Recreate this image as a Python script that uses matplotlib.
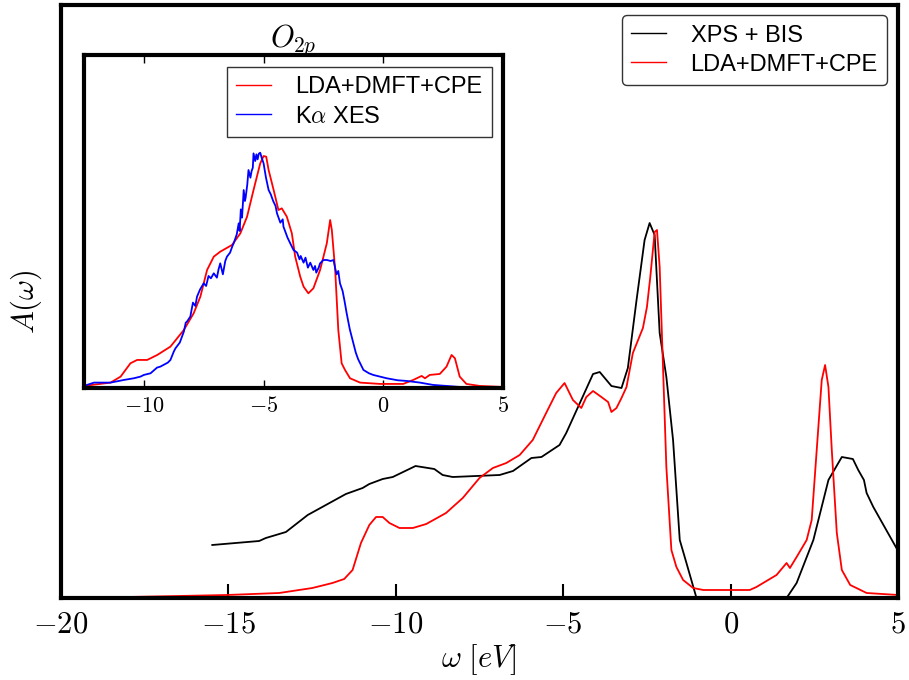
import matplotlib
matplotlib.use("Agg")
import matplotlib.pyplot as plt

plt.rcParams['mathtext.fontset'] = 'cm'
plt.rcParams['font.family'] = ['Liberation Sans', 'DejaVu Sans']

# ---- main panel: XPS + BIS experiment
xps_w = [-15.48, -14.08, -13.88, -13.28, -12.63, -11.49, -10.99, -10.79, -10.39, -10.09,
         -9.41, -8.85, -8.60, -8.30, -6.90, -6.50, -5.95, -5.65, -5.11, -4.91,
         -4.11, -3.91, -3.56, -3.26, -3.07, -2.81, -2.57, -2.42, -2.27, -2.12,
         -1.92, -1.72, -1.62, -1.52, -1.32, -1.02, 1.67, 1.97, 2.47, 2.92,
         3.32, 3.65, 3.81, 3.98, 4.06, 4.26, 5.00]
xps_A = [0.53, 0.57, 0.60, 0.66, 0.83, 1.04, 1.10, 1.14, 1.19, 1.21,
         1.32, 1.29, 1.23, 1.21, 1.23, 1.27, 1.40, 1.41, 1.53, 1.65,
         2.24, 2.26, 2.12, 2.10, 2.30, 2.98, 3.58, 3.75, 3.63, 2.65,
         2.21, 1.58, 1.08, 0.58, 0.35, 0.00, 0.00, 0.15, 0.58, 1.18,
         1.41, 1.39, 1.28, 1.18, 1.05, 0.91, 0.47]

# ---- main panel: LDA+DMFT+CPE theory
cpe_w = [-20.0, -18.0, -16.47, -15.04, -13.48, -12.49, -11.89, -11.54, -11.29, -11.04,
         -10.79, -10.59, -10.39, -10.19, -9.89, -9.49, -9.09, -8.50, -8.00, -7.50,
         -7.10, -6.70, -6.30, -5.91, -5.51, -5.21, -4.96, -4.71, -4.46, -4.31,
         -4.11, -3.86, -3.66, -3.56, -3.41, -3.26, -3.11, -2.92, -2.62, -2.50,
         -2.40, -2.27, -2.20, -2.12, -2.02, -1.92, -1.77, -1.62, -1.42, -1.12,
         -0.82, 0.57, 0.77, 1.37, 1.57, 1.67, 1.77, 1.97, 2.27, 2.42,
         2.57, 2.72, 2.82, 2.92, 3.02, 3.17, 3.32, 3.57, 4.06, 5.00]
cpe_A = [0.005, 0.01, 0.02, 0.03, 0.05, 0.10, 0.15, 0.19, 0.28, 0.55,
         0.73, 0.81, 0.81, 0.75, 0.70, 0.70, 0.74, 0.85, 1.00, 1.20,
         1.30, 1.35, 1.43, 1.58, 1.85, 2.05, 2.15, 1.98, 1.90, 2.01,
         2.07, 2.01, 1.96, 1.86, 1.90, 2.00, 2.11, 2.45, 2.70, 2.91,
         3.21, 3.66, 3.68, 3.31, 2.31, 1.31, 0.48, 0.31, 0.18, 0.10,
         0.08, 0.08, 0.11, 0.23, 0.31, 0.35, 0.30, 0.41, 0.58, 0.78,
         1.48, 2.18, 2.33, 2.11, 1.48, 0.65, 0.28, 0.13, 0.05, 0.03]

# ---- inset: O 2p partial spectra
o2p_w = [-12.5, -11.39, -10.97, -10.56, -10.28, -9.86, -9.44, -8.89, -8.33, -7.92,
         -7.64, -7.36, -7.08, -6.81, -6.32, -5.97, -5.69, -5.42, -5.14, -5.0,
         -4.89, -4.79, -4.58, -4.38, -4.24, -4.03, -3.82, -3.68, -3.47, -3.33,
         -3.13, -2.92, -2.64, -2.36, -2.22, -2.15, -2.01, -1.88, -1.74, -1.60,
         -1.39, -0.97, -0.14, 0.83, 1.25, 1.60, 1.74, 1.94, 2.36, 2.64,
         2.85, 2.99, 3.19, 3.47, 4.03, 5.0]
o2p_A = [0.05, 0.15, 0.33, 0.73, 0.83, 0.83, 0.98, 1.23, 1.73, 2.23,
         2.73, 3.53, 3.93, 4.08, 4.28, 4.63, 5.13, 5.93, 6.73, 6.95,
         6.93, 6.53, 5.93, 5.33, 5.38, 5.13, 4.63, 3.93, 3.33, 3.03,
         2.83, 2.98, 3.53, 4.33, 5.03, 4.73, 3.53, 1.73, 0.73, 0.53,
         0.28, 0.15, 0.11, 0.11, 0.23, 0.35, 0.28, 0.38, 0.41, 0.63,
         0.98, 0.88, 0.33, 0.11, 0.05, 0.02]

xes_w = [-12.5, -12.08, -11.39, -10.83, -10.42, -10.14, -10.0, -9.72, -9.45, -9.31,
         -9.0, -8.89, -8.75, -8.68, -8.5, -8.33, -8.25, -8.2, -8.06, -7.95,
         -7.85, -7.78, -7.65, -7.5, -7.4, -7.3, -7.2, -7.08, -6.95, -6.88,
         -6.81, -6.7, -6.6, -6.53, -6.4, -6.3, -6.25, -6.12, -6.04, -6.0,
         -5.95, -5.9, -5.83, -5.78, -5.75, -5.68, -5.63, -5.55, -5.5, -5.45,
         -5.42, -5.35, -5.3, -5.25, -5.2, -5.14, -5.08, -5.0, -4.9, -4.79,
         -4.7, -4.6, -4.5, -4.44, -4.3, -4.2, -4.17, -4.0, -3.9, -3.75,
         -3.6, -3.5, -3.45, -3.33, -3.25, -3.15, -3.05, -2.92, -2.85, -2.8,
         -2.7, -2.64, -2.5, -2.36, -2.2, -2.08, -2.0, -1.95, -1.88, -1.81,
         -1.7, -1.62, -1.53, -1.4, -1.25, -1.15, -1.05, -0.83, -0.6, -0.42,
         0.14, 0.6, 0.97, 1.53, 2.08, 2.64, 3.19, 5.0]
xes_A = [0.05, 0.15, 0.15, 0.23, 0.28, 0.33, 0.38, 0.43, 0.60, 0.63,
         0.75, 0.83, 1.08, 1.18, 1.35, 1.68, 1.95, 1.98, 2.13, 2.55,
         2.45, 2.73, 2.95, 3.13, 3.05, 3.35, 3.28, 3.43, 3.30, 3.55,
         3.73, 3.40, 3.80, 3.93, 4.05, 4.25, 4.33, 4.60, 4.93, 4.70,
         5.35, 5.10, 5.93, 5.60, 5.70, 6.10, 6.53, 6.30, 6.50, 6.60,
         7.03, 6.80, 7.00, 6.85, 7.02, 7.05, 6.90, 6.73, 6.30, 5.93,
         5.80, 5.60, 5.45, 5.23, 4.95, 5.05, 4.83, 4.50, 4.35, 4.13,
         4.05, 3.85, 3.95, 3.75, 3.90, 3.60, 3.75, 3.53, 3.65, 3.45,
         3.60, 3.73, 3.83, 3.83, 3.80, 3.83, 3.55, 3.40, 3.50, 3.13,
         2.90, 2.60, 2.23, 1.75, 1.33, 1.05, 0.85, 0.53, 0.43, 0.38,
         0.28, 0.22, 0.20, 0.15, 0.08, 0.05, 0.02, 0.0]

fig = plt.figure(figsize=(9.09, 6.8), dpi=100)

ax = fig.add_axes([0.067, 0.1206, 0.921, 0.872])
ax.plot(xps_w, xps_A, color='black', lw=1.3, label='XPS + BIS')
ax.plot(cpe_w, cpe_A, color='red', lw=1.3, label='LDA+DMFT+CPE')
ax.set_xlim(-20, 5)
ax.set_ylim(0, 5.93)
ax.set_yticks([])
ax.set_xticks([-20, -15, -10, -5, 0, 5])
ax.set_xticklabels([r'$-20$', r'$-15$', r'$-10$', r'$-5$', r'$0$', r'$5$'], fontsize=22)
ax.tick_params(axis='x', direction='in', length=10, width=1.5, pad=8, top=False)
for s in ax.spines.values():
    s.set_linewidth(3)
ax.set_xlabel(r'$\omega\ [eV]$', fontsize=22, labelpad=2)
ax.set_ylabel(r'$A(\omega)$', fontsize=22, labelpad=12)

legend_style = dict(fontsize=17, frameon=True, handlelength=1.45,
                    handletextpad=1.05, borderpad=0.4, labelspacing=0.3,
                    borderaxespad=0, loc='upper right')

leg = ax.legend(fancybox=True, bbox_to_anchor=(0.987, 0.983), **legend_style)
leg.get_frame().set_edgecolor('black')
leg.get_frame().set_linewidth(1.0)
for h in leg.get_lines():
    h.set_linewidth(1.0)

ins = fig.add_axes([0.0924, 0.430, 0.461, 0.489])
ins.plot(o2p_w, o2p_A, color='red', lw=1.3, label='LDA+DMFT+CPE')
ins.plot(xes_w, xes_A, color='blue', lw=1.3, label=r'K$\alpha$ XES')
ins.set_xlim(-12.5, 5)
ins.set_ylim(0, 9.98)
ins.set_yticks([])
ins.set_xticks([-10, -5, 0, 5])
ins.set_xticklabels([r'$-10$', r'$-5$', r'$0$', r'$5$'], fontsize=16)
ins.tick_params(axis='x', direction='in', length=6, width=1.0, top=True, pad=6)
for s in ins.spines.values():
    s.set_linewidth(3)
ins.set_title(r'$O_{2p}$', fontsize=22, pad=6)
ileg = ins.legend(fancybox=False, bbox_to_anchor=(0.974, 0.964), **legend_style)
ileg.get_frame().set_edgecolor('black')
ileg.get_frame().set_linewidth(1.0)
for h in ileg.get_lines():
    h.set_linewidth(1.0)

fig.savefig('out.png', dpi=100)
